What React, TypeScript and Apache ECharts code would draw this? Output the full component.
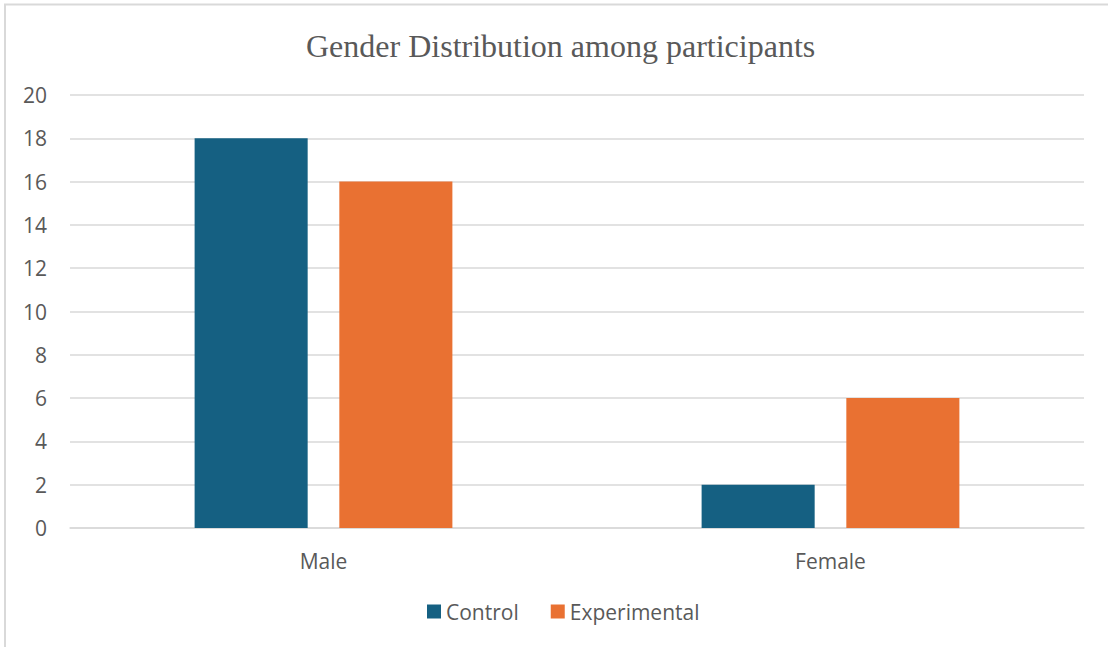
import React, { useEffect, useRef } from "react";
import * as echarts from "echarts";

const categories = ["Male", "Female"];
const controlValues = [18, 2];
const experimentalValues = [16, 6];
const seriesNames = ["Control", "Experimental"];
const chartTitle = "Gender Distribution among participants";

export default function App() {
  const ref = useRef<HTMLDivElement>(null);

  useEffect(() => {
    if (!ref.current) return;
    const chart = echarts.init(ref.current, undefined, { renderer: "svg" });
    const labelFont = "'Open Sans', 'Noto Sans', sans-serif";
    chart.setOption({
      animation: false,
      backgroundColor: "#ffffff",
      title: {
        text: chartTitle,
        left: 301,
        top: 25,
        textStyle: {
          fontFamily: "'Liberation Serif', 'DejaVu Serif', serif",
          fontWeight: "normal",
          fontSize: 32,
          color: "#595959",
        },
      },
      graphic: [
        {
          type: "rect",
          shape: { x: 5, y: 4.5, width: 1120, height: 660 },
          style: { fill: "none", stroke: "#d9d9d9", lineWidth: 2 },
          silent: true,
        },
      ],
      legend: {
        data: seriesNames,
        bottom: 20,
        left: 422,
        itemWidth: 14,
        itemHeight: 14,
        itemGap: 32,
        icon: "rect",
        textStyle: { fontFamily: labelFont, fontSize: 21, color: "#595959" },
      },
      grid: { left: 70, right: 24, top: 95, bottom: 119, containLabel: false },
      xAxis: {
        type: "category",
        data: categories,
        axisLine: { show: true, lineStyle: { color: "#d9d9d9", width: 1.5 } },
        axisTick: { show: false },
        axisLabel: { fontFamily: labelFont, fontSize: 21, color: "#595959", margin: 22 },
      },
      yAxis: {
        type: "value",
        min: 0,
        max: 20,
        interval: 2,
        axisLine: { show: false },
        axisTick: { show: false },
        splitLine: { lineStyle: { color: "#d9d9d9", width: 1.5 } },
        axisLabel: { fontFamily: labelFont, fontSize: 21, color: "#595959", margin: 23 },
      },
      series: [
        {
          name: seriesNames[0],
          type: "bar",
          data: controlValues,
          barWidth: "22.3%",
          barGap: "28%",
          itemStyle: { color: "#156082" },
        },
        {
          name: seriesNames[1],
          type: "bar",
          data: experimentalValues,
          barWidth: "22.3%",
          barGap: "28%",
          itemStyle: { color: "#e97132" },
        },
      ],
    });
    return () => chart.dispose();
  }, []);

  return (
    <div
      ref={ref}
      style={{ position: "absolute", left: 0, top: 0, width: 1108, height: 647 }}
    />
  );
}
